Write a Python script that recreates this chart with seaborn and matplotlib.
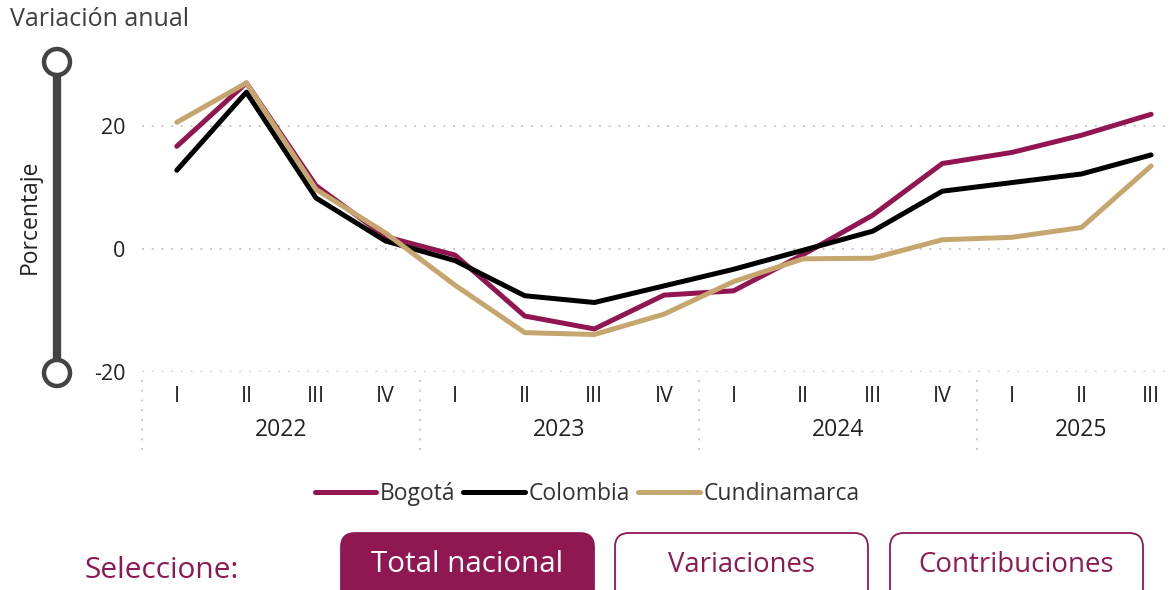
import pandas as pd
import matplotlib.pyplot as plt
import seaborn as sns
from matplotlib.patches import FancyBboxPatch, Circle

# Data
quarters = ["I", "II", "III", "IV"] * 3 + ["I", "II", "III"]
years = ["2022", "2023", "2024", "2025"]
bogota = [16.7, 27.0, 10.3, 2.0, -1.0, -10.9, -13.0, -7.5, -6.8, -0.9, 5.5, 13.9, 15.7, 18.5, 21.9]
colombia = [12.8, 25.5, 8.3, 1.3, -1.9, -7.6, -8.7, -6.0, -3.3, -0.2, 2.9, 9.4, 10.8, 12.2, 15.3]
cundinamarca = [20.6, 27.0, 9.7, 2.6, -5.9, -13.6, -13.9, -10.6, -5.3, -1.6, -1.5, 1.5, 1.9, 3.5, 13.5]

series = {"Bogotá": bogota, "Colombia": colombia, "Cundinamarca": cundinamarca}
colors = {"Bogotá": "#911551", "Colombia": "#000000", "Cundinamarca": "#c6a66f"}

rows = []
for name, vals in series.items():
    for i, v in enumerate(vals):
        rows.append({"idx": i, "valor": v, "serie": name})
df = pd.DataFrame(rows)

sns.set_style("white")
plt.rcParams["font.family"] = ["Open Sans", "DejaVu Sans"]

W, H = 1174, 590
fig = plt.figure(figsize=(W / 100, H / 100), dpi=100)
ax = fig.add_axes([142 / W, 1 - 372 / H, (1172 - 142) / W, (372 - 64.5) / H])

sns.lineplot(data=df, x="idx", y="valor", hue="serie", palette=colors,
             linewidth=3.6, ax=ax, legend=True)

ax.set_xlim(-0.5, 14.3)
ax.set_ylim(-20, 30)
ax.set_yticks([-20, 0, 20])
ax.set_yticklabels(["-20", "0", "20"])
ax.yaxis.grid(True, linestyle=(0, (1, 4)), color="#c8c8c8", linewidth=1.4)
ax.xaxis.grid(False)
for s in ax.spines.values():
    s.set_visible(False)
ax.tick_params(axis="y", length=0, pad=12, labelsize=15.5, labelcolor="#222222")
ax.tick_params(axis="x", length=0, pad=10, labelsize=15.5, labelcolor="#222222")
ax.set_xticks(range(len(quarters)))
ax.set_xticklabels(quarters)
ax.set_xlabel("")
ax.set_ylabel("")

# year labels and separators below the axis
tr = ax.get_xaxis_transform()
year_pos = [1.5, 5.5, 9.5, 13.0]
for yr, xp in zip(years, year_pos):
    ax.text(xp, (372 - 430) / 307.5, yr, transform=tr, ha="center", va="center",
            fontsize=16.5, color="#222222")
for xs in [-0.5, 3.5, 7.5, 11.5]:
    ax.plot([xs, xs], [(372 - 380) / 307.5, (372 - 452) / 307.5], transform=tr,
            clip_on=False, color="#c8c8c8", linewidth=1.4, linestyle=(0, (1, 4)))

# legend
leg = ax.legend(loc="center", bbox_to_anchor=(0.5, 1 - 494 / H), bbox_transform=fig.transFigure,
                ncol=3, frameon=False, handlelength=2.7, handletextpad=0.15,
                columnspacing=0.35, fontsize=16.5)
for t in leg.get_texts():
    t.set_color("#333333")
for l in leg.get_lines():
    l.set_linewidth(3.6)

# overlay in pixel coordinates for decorations
ov = fig.add_axes([0, 0, 1, 1], zorder=-1)
ov.set_xlim(0, W)
ov.set_ylim(H, 0)
ov.axis("off")

ov.text(10, 20, "Variación anual", fontsize=18, color="#404040", va="center", ha="left")
ov.text(30, 217, "Porcentaje", fontsize=16.5, color="#222222", rotation=90, va="center", ha="center")
ov.plot([57, 57], [62, 373], color="#444444", linewidth=6, solid_capstyle="butt")
for cy in [62, 373]:
    ov.add_patch(Circle((57, cy), 13, facecolor="white", edgecolor="#444444", linewidth=3.2, zorder=3))

maroon = "#8f1852"
ov.text(85, 570, "Seleccione:", fontsize=21.5, color=maroon, va="center", ha="left")
buttons = [("Total nacional", 341, True, 21.3), ("Variaciones", 615, False, 19.8),
           ("Contribuciones", 890, False, 19.9)]
for label, bx, filled, fs in buttons:
    ov.add_patch(FancyBboxPatch((bx, 533), 253, 70, boxstyle="round,pad=0,rounding_size=14",
                                facecolor=maroon if filled else "white",
                                edgecolor=maroon, linewidth=1.3))
    ov.text(bx + 126, 565, label, fontsize=fs,
            color="white" if filled else maroon, ha="center", va="center")

fig.savefig("out.png", dpi=100)
